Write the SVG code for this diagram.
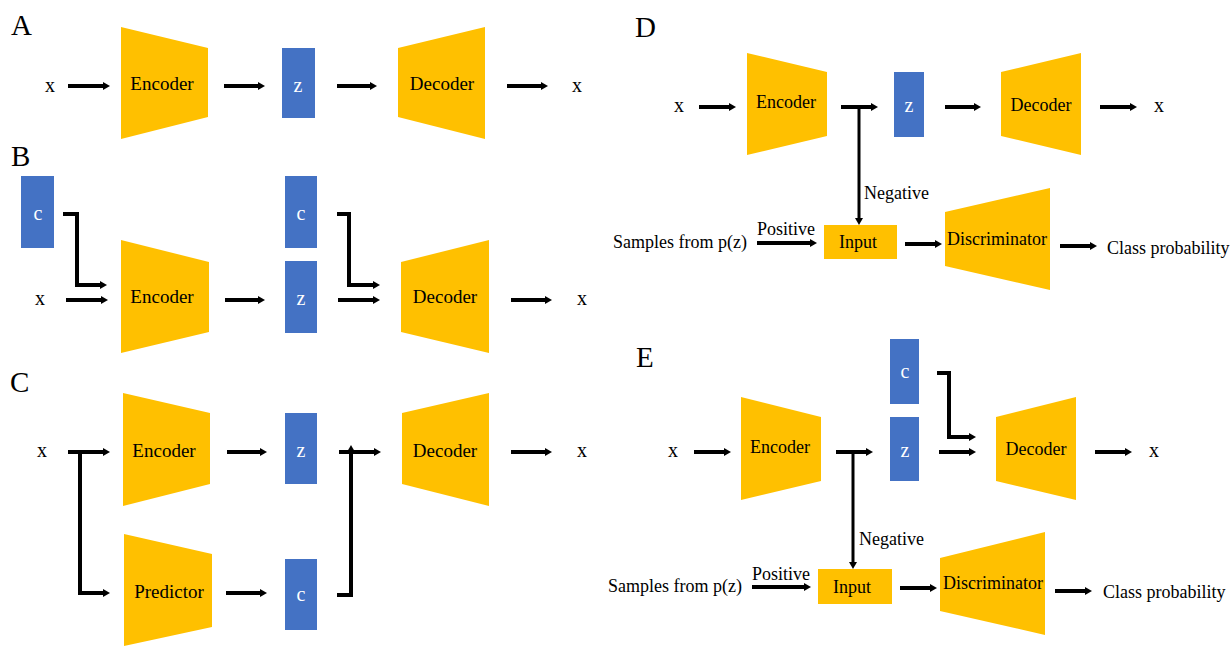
<svg xmlns="http://www.w3.org/2000/svg" width="1230" height="646" viewBox="0 0 1230 646" font-family="'Liberation Serif', 'DejaVu Serif', serif">
<style>
.y{fill:#FFC000}
.b{fill:#4472C4}
text{font-family:'Liberation Serif','DejaVu Serif',serif;font-size:19px;fill:#000}
.s{font-size:18px}
.w{fill:#fff;font-size:20px}
.x{font-size:20px}
.L{font-size:29px}
.c{stroke:#000;stroke-width:4;fill:none;marker-end:url(#ah)}
.n{stroke-width:3}
</style>
<defs>
<marker id="ah" markerUnits="userSpaceOnUse" markerWidth="8" markerHeight="9" refX="0" refY="4.5" orient="auto">
<path d="M0,0.5 L7,4.5 L0,8.5 z" fill="#000"/>
</marker>
</defs>
<rect width="1230" height="646" fill="#fff"/>

<g id="labels">
<text class="L" x="11" y="35">A</text>
<text class="L" x="11" y="166">B</text>
<text class="L" x="10" y="392">C</text>
<text class="L" x="635" y="37">D</text>
<text class="L" x="636" y="367">E</text>
</g>

<!-- Panel A -->
<g id="A-x-in"><text class="x" x="50" y="92" text-anchor="middle">x</text></g>
<g id="A-encoder"><polygon class="y" points="121,27 208,48 208,117 121,139"/><text x="162" y="90" text-anchor="middle">Encoder</text></g>
<g id="A-z"><rect class="b" x="282" y="48" width="33" height="70"/><text class="w" x="298" y="92" text-anchor="middle">z</text></g>
<g id="A-decoder"><polygon class="y" points="398,48 485,27 485,139 398,117"/><text x="442" y="90" text-anchor="middle">Decoder</text></g>
<g id="A-x-out"><text class="x" x="577" y="92" text-anchor="middle">x</text></g>

<!-- Panel B -->
<g id="B-c1"><rect class="b" x="21" y="176" width="33" height="72"/><text class="w" x="38" y="220" text-anchor="middle">c</text></g>
<g id="B-x-in"><text class="x" x="40" y="305" text-anchor="middle">x</text></g>
<g id="B-encoder"><polygon class="y" points="121,240 209,262 209,332 121,353"/><text x="162" y="303" text-anchor="middle">Encoder</text></g>
<g id="B-c2"><rect class="b" x="285" y="176" width="32" height="72"/><text class="w" x="301" y="220" text-anchor="middle">c</text></g>
<g id="B-z"><rect class="b" x="285" y="261" width="32" height="72"/><text class="w" x="301" y="305" text-anchor="middle">z</text></g>
<g id="B-decoder"><polygon class="y" points="401,262 489,240 489,353 401,332"/><text x="445" y="303" text-anchor="middle">Decoder</text></g>
<g id="B-x-out"><text class="x" x="582" y="305" text-anchor="middle">x</text></g>

<!-- Panel C -->
<g id="C-x-in"><text class="x" x="42" y="457" text-anchor="middle">x</text></g>
<g id="C-encoder"><polygon class="y" points="123,393 210,413 210,484 123,506"/><text x="164" y="457" text-anchor="middle">Encoder</text></g>
<g id="C-predictor"><polygon class="y" points="124,534 212,554 212,627 124,646"/><text x="169" y="598" text-anchor="middle">Predictor</text></g>
<g id="C-z"><rect class="b" x="285" y="413" width="32" height="71"/><text class="w" x="301" y="457" text-anchor="middle">z</text></g>
<g id="C-c"><rect class="b" x="285" y="559" width="32" height="71"/><text class="w" x="301" y="601" text-anchor="middle">c</text></g>
<g id="C-decoder"><polygon class="y" points="402,413 489,393 489,506 402,484"/><text x="445" y="457" text-anchor="middle">Decoder</text></g>
<g id="C-x-out"><text class="x" x="582" y="457" text-anchor="middle">x</text></g>

<!-- Panel D -->
<g id="D-x-in"><text class="x" x="679" y="112" text-anchor="middle">x</text></g>
<g id="D-encoder"><polygon class="y" points="747,53 827,72 827,136 747,155"/><text class="s" x="786" y="108" text-anchor="middle">Encoder</text></g>
<g id="D-z"><rect class="b" x="894" y="72" width="30" height="65"/><text class="w" x="909" y="112" text-anchor="middle">z</text></g>
<g id="D-decoder"><polygon class="y" points="1001,72 1081,53 1081,155 1001,136"/><text class="s" x="1041" y="111" text-anchor="middle">Decoder</text></g>
<g id="D-x-out"><text class="x" x="1159" y="112" text-anchor="middle">x</text></g>
<g id="D-samples"><text class="s" x="613" y="248">Samples from p(z)</text></g>
<g id="D-input"><rect class="y" x="824" y="225" width="73" height="34"/><text class="s" x="858" y="248" text-anchor="middle">Input</text></g>
<g id="D-discriminator"><polygon class="y" points="945,212 1050,188 1050,290 945,266"/><text class="s" x="997" y="245" text-anchor="middle">Discriminator</text></g>
<g id="D-class"><text class="s" x="1107" y="254">Class probability</text></g>

<!-- Panel E -->
<g id="E-x-in"><text class="x" x="673" y="457" text-anchor="middle">x</text></g>
<g id="E-encoder"><polygon class="y" points="741,397 821,417 821,481 741,500"/><text class="s" x="780" y="453" text-anchor="middle">Encoder</text></g>
<g id="E-c"><rect class="b" x="890" y="339" width="29" height="65"/><text class="w" x="905" y="378" text-anchor="middle">c</text></g>
<g id="E-z"><rect class="b" x="890" y="417" width="29" height="64"/><text class="w" x="905" y="457" text-anchor="middle">z</text></g>
<g id="E-decoder"><polygon class="y" points="996,417 1076,397 1076,500 996,481"/><text class="s" x="1036" y="455" text-anchor="middle">Decoder</text></g>
<g id="E-x-out"><text class="x" x="1154" y="457" text-anchor="middle">x</text></g>
<g id="E-samples"><text class="s" x="608" y="592">Samples from p(z)</text></g>
<g id="E-input"><rect class="y" x="818" y="569" width="74" height="35"/><text class="s" x="852" y="593" text-anchor="middle">Input</text></g>
<g id="E-discriminator"><polygon class="y" points="940,558 1045,532 1045,635 940,611"/><text class="s" x="993" y="589" text-anchor="middle">Discriminator</text></g>
<g id="E-class"><text class="s" x="1103" y="598">Class probability</text></g>

<!-- Connectors -->
<g id="connectors">
<path class="c" d="M68 86 H103"/>
<path class="c" d="M224 86 H258"/>
<path class="c" d="M337 86 H370"/>
<path class="c" d="M507 86 H541"/>

<path class="c" d="M63 214 H77 V285 H100"/>
<path class="c" d="M66 300 H101"/>
<path class="c" d="M225 300 H258"/>
<path class="c" d="M337 214 H349 V285 H373"/>
<path class="c" d="M338 300 H373"/>
<path class="c" d="M511 300 H545"/>

<path class="c" d="M68 452 H103"/>
<path class="c" d="M80 452 V593 H103"/>
<path class="c" d="M227 452 H260"/>
<path class="c" d="M226 593 H260"/>
<path class="c" d="M337 595 H351 V452"/>
<path class="c" d="M339 452 H374"/>
<path class="c" d="M511 452 H545"/>

<path class="c" d="M699 107 H729"/>
<path class="c" d="M841 107 H871"/>
<path class="c n" d="M859 107 V218"/>
<path class="c" d="M945 107 H974"/>
<path class="c" d="M1100 107 H1130"/>
<path class="c" d="M757 243 H810"/>
<path class="c" d="M905 244 H935"/>
<path class="c" d="M1060 246 H1090"/>
<text class="s" x="864" y="199">Negative</text>
<text class="s" x="757" y="235">Positive</text>

<path class="c" d="M694 452 H724"/>
<path class="c" d="M836 452 H866"/>
<path class="c n" d="M853 452 V562"/>
<path class="c" d="M937 373 H949 V437 H969"/>
<path class="c" d="M939 452 H969"/>
<path class="c" d="M1095 452 H1125"/>
<path class="c" d="M752 587 H804"/>
<path class="c" d="M900 588 H930"/>
<path class="c" d="M1055 591 H1085"/>
<text class="s" x="859" y="545">Negative</text>
<text class="s" x="752" y="580">Positive</text>
</g>
</svg>
